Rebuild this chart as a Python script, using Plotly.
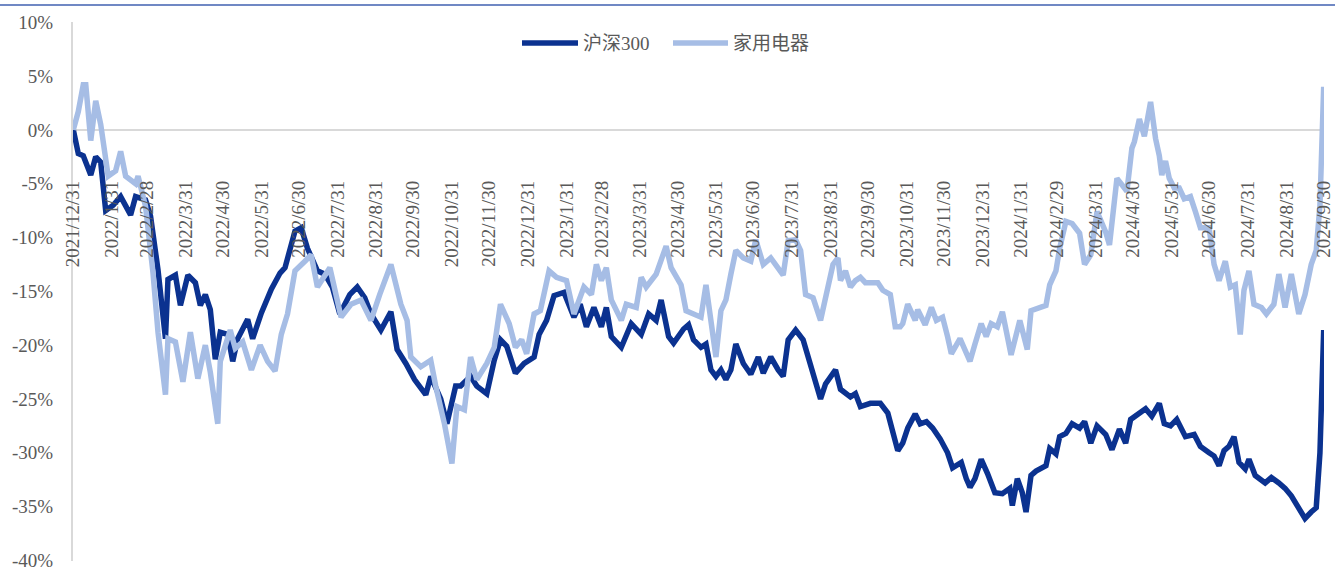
import pandas as pd
import plotly.graph_objects as go

BASE = "2021-12-31"

# 沪深300 : days since 2021-12-31, cumulative return (%)
hs300_days = [0, 4, 8, 14, 18, 22, 26, 32, 38, 46, 50, 58, 62, 68, 74, 76, 82, 86, 92, 98,
              102, 106, 110, 114, 118, 124, 128, 132, 140, 144, 151, 159, 166, 170, 178, 183, 188, 196, 202, 208,
              214, 222, 228, 234, 239, 247, 255, 260, 267, 274, 283, 287, 295, 300, 307, 311, 319, 324, 332, 338,
              343, 348, 355, 362, 370, 374, 380, 386, 394, 402, 407, 412, 418, 424, 428, 432, 440, 448, 456, 462,
              468, 472, 478, 482, 490, 494, 498, 504, 508, 512, 516, 520, 524, 528, 532, 538, 544, 550, 554, 560,
              566, 570, 574, 580, 586, 592, 600, 604, 612, 616, 624, 628, 632, 640, 648, 654, 658, 662, 666, 670,
              676, 680, 685, 690, 696, 702, 706, 713, 717, 720, 724, 729, 734, 740, 746, 752, 754, 758, 762, 765,
              769, 773, 781, 784, 789, 792, 797, 802, 808, 812, 817, 822, 829, 834, 840, 845, 849, 856, 861, 866,
              872, 876, 881, 886, 893, 900, 905, 912, 916, 920, 924, 928, 932, 936, 941, 944, 949, 957, 962, 968,
              973, 978, 984, 989, 994, 998, 1001, 1004]
hs300_vals = [0, -2.2, -2.4, -4.2, -2.5, -3.0, -7.5, -7.0, -6.2, -7.9, -6.2, -6.5, -8.0, -13.0, -19.4, -13.9, -13.5, -16.3, -13.5, -14.2,
              -16.3, -15.3, -16.7, -21.3, -18.8, -19.0, -21.5, -19.4, -17.6, -19.4, -17.0, -14.8, -13.3, -12.8, -9.4, -9.1, -11.0, -13.1, -13.4, -14.6,
              -17.1, -15.3, -14.6, -15.6, -17.1, -18.6, -16.9, -20.4, -21.7, -23.2, -24.6, -22.9, -25.0, -27.3, -23.8, -23.8, -22.9, -23.8, -24.5, -21.4,
              -19.5, -20.1, -22.6, -21.7, -21.1, -19.0, -17.7, -15.4, -15.1, -17.4, -16.2, -18.3, -16.5, -18.3, -16.5, -19.2, -20.2, -18.0, -19.0, -17.1,
              -17.7, -15.8, -19.2, -19.8, -18.5, -18.1, -19.5, -20.2, -19.9, -22.3, -22.9, -22.3, -23.2, -22.3, -19.9, -21.7, -22.7, -21.1, -22.6, -21.1,
              -22.3, -22.9, -19.5, -18.6, -19.5, -21.7, -25.0, -23.6, -22.3, -24.1, -24.8, -24.5, -25.7, -25.4, -25.4, -26.3, -28.2, -29.8, -29.1, -27.7,
              -26.4, -27.3, -27.1, -27.7, -28.7, -30.0, -31.4, -30.9, -32.4, -33.2, -32.4, -30.6, -31.9, -33.7, -33.8, -33.3, -34.9, -32.4, -33.7, -35.5,
              -32.1, -31.7, -31.2, -29.6, -30.1, -28.5, -28.2, -27.3, -27.7, -27.1, -29.1, -27.5, -28.3, -29.7, -27.8, -29.1, -26.9, -26.3, -25.9, -26.6,
              -25.4, -27.3, -27.5, -26.9, -28.5, -28.3, -29.4, -30.0, -30.3, -31.2, -29.8, -29.4, -28.5, -30.9, -31.5, -30.6, -32.1, -32.8, -32.3, -32.8,
              -33.3, -34.0, -35.2, -36.1, -35.5, -35.1, -30.0, -18.6]

# 家用电器 : days since 2021-12-31, cumulative return (%)
jd_days = [0, 4, 8, 10, 14, 18, 22, 28, 34, 38, 42, 50, 52, 58, 64, 68, 74, 76, 82, 88,
           94, 100, 106, 110, 116, 118, 126, 130, 136, 143, 150, 156, 162, 167, 172, 178, 186, 191, 196, 206,
           215, 223, 231, 239, 246, 255, 263, 268, 271, 279, 287, 291, 298, 304, 308, 314, 319, 324, 332, 338,
           343, 350, 355, 360, 364, 370, 375, 382, 388, 396, 402, 410, 416, 420, 424, 428, 432, 440, 444, 452,
           456, 460, 468, 472, 476, 480, 488, 492, 498, 504, 508, 512, 516, 520, 524, 528, 532, 538, 544, 548,
           554, 560, 564, 570, 574, 580, 584, 588, 594, 600, 604, 610, 614, 616, 620, 624, 628, 632, 636, 646,
           650, 656, 660, 664, 666, 670, 676, 678, 684, 689, 693, 698, 702, 705, 712, 716, 720, 724, 729, 733,
           737, 742, 746, 753, 760, 766, 769, 781, 784, 789, 792, 797, 802, 808, 812, 817, 822, 829, 832, 838,
           842, 846, 850, 852, 856, 860, 865, 869, 872, 874, 877, 880, 884, 888, 892, 897, 901, 905, 912, 916,
           920, 925, 929, 933, 937, 940, 944, 948, 954, 958, 964, 968, 973, 978, 984, 989, 994, 998, 1001, 1004]
jd_vals = [0, 1.7, 4.2, 4.2, -1.0, 2.7, 0.5, -4.3, -3.8, -2.0, -4.3, -5.0, -4.3, -7.1, -13.3, -18.8, -24.6, -19.4, -19.7, -23.4,
           -18.8, -23.1, -20.0, -22.5, -27.3, -21.5, -18.6, -20.3, -19.7, -22.3, -20.0, -21.5, -22.4, -19.0, -17.1, -13.1, -12.2, -11.6, -14.6, -12.8,
           -17.4, -16.2, -15.8, -17.7, -15.3, -12.5, -16.2, -17.7, -21.1, -22.0, -21.4, -23.8, -27.3, -31.0, -25.7, -26.0, -21.1, -23.2, -21.7, -20.2,
           -16.2, -18.0, -20.2, -19.5, -20.8, -17.1, -16.8, -13.1, -13.7, -14.0, -17.1, -14.6, -15.3, -12.5, -14.0, -12.8, -15.8, -17.7, -16.2, -16.5,
           -13.7, -14.6, -13.4, -11.9, -10.8, -12.8, -14.4, -16.8, -17.1, -17.4, -14.4, -17.4, -21.1, -16.8, -15.8, -13.4, -11.2, -11.9, -12.2, -10.2,
           -12.5, -11.9, -12.5, -13.5, -10.3, -10.2, -11.2, -15.3, -15.6, -17.7, -15.6, -12.5, -11.9, -14.0, -13.1, -14.6, -14.0, -13.7, -14.2, -14.2,
           -14.9, -15.3, -18.3, -18.3, -18.0, -16.2, -17.7, -16.7, -18.1, -16.5, -17.7, -17.4, -19.2, -20.8, -19.4, -20.4, -21.5, -19.9, -18.0, -19.2,
           -18.0, -18.3, -16.9, -20.9, -17.7, -20.4, -16.8, -16.3, -14.4, -13.1, -11.0, -8.5, -8.7, -9.6, -12.5, -11.6, -7.6, -9.5, -10.7, -4.5,
           -5.2, -5.7, -1.7, -1.1, 1.0, -0.6, 2.6, -0.8, -2.4, -4.2, -2.9, -4.5, -5.4, -5.4, -6.4, -6.2, -7.6, -9.1, -9.1, -12.5,
           -14.0, -12.2, -14.6, -14.4, -19.0, -14.9, -13.1, -16.2, -16.5, -17.1, -16.2, -13.4, -16.5, -13.4, -17.1, -15.3, -12.5, -11.2, -7.0, 4.0]

series_names = ["沪深300", "家用电器"]

tick_dates = ["2021-12-31", "2022-01-31", "2022-02-28", "2022-03-31", "2022-04-30", "2022-05-31",
              "2022-06-30", "2022-07-31", "2022-08-31", "2022-09-30", "2022-10-31", "2022-11-30",
              "2022-12-31", "2023-01-31", "2023-02-28", "2023-03-31", "2023-04-30", "2023-05-31",
              "2023-06-30", "2023-07-31", "2023-08-31", "2023-09-30", "2023-10-31", "2023-11-30",
              "2023-12-31", "2024-01-31", "2024-02-29", "2024-03-31", "2024-04-30", "2024-05-31",
              "2024-06-30", "2024-07-31", "2024-08-31", "2024-09-30"]
tick_text = [d.replace("-0", "-").replace("-", "/") for d in tick_dates]

y_ticks = [-40, -35, -30, -25, -20, -15, -10, -5, 0, 5, 10]
y_text = [f"{v}%" for v in y_ticks]

base = pd.Timestamp(BASE)
hs_x = [base + pd.Timedelta(days=d) for d in hs300_days]
jd_x = [base + pd.Timedelta(days=d) for d in jd_days]

DARK = "#0b3290"
LIGHT = "#a6bde5"
GRAY = "#595959"
FONT = "Liberation Serif, Noto Sans CJK SC, serif"
LW = 5.5

# plot-area geometry (pixels)
L, R, T, B = 73, 11, 22, 11
PW = 1335 - L - R
PH = 572 - T - B

fig = go.Figure()
fig.add_trace(go.Scatter(x=hs_x, y=hs300_vals, mode="lines", name=series_names[0],
                         line=dict(color=DARK, width=LW), showlegend=False))
fig.add_trace(go.Scatter(x=jd_x, y=jd_vals, mode="lines", name=series_names[1],
                         line=dict(color=LIGHT, width=LW), showlegend=False))

# custom legend (long line samples as in the original)
def px_x(p):
    return (p - L) / PW

def px_y(p):
    return 1 - (p - T) / PH

LEG_Y = px_y(43)
legend_items = [(px_x(522), px_x(578), DARK, series_names[0]),
                (px_x(673), px_x(728), LIGHT, series_names[1])]
shapes = [dict(type="line", xref="paper", yref="paper", x0=px_x(0), x1=px_x(1335),
               y0=px_y(5), y1=px_y(5), line=dict(color="#7088c4", width=2))]
annotations = []
for x0, x1, col, name in legend_items:
    shapes.append(dict(type="line", xref="paper", yref="paper", x0=x0, x1=x1,
                       y0=LEG_Y, y1=LEG_Y, line=dict(color=col, width=LW)))
    annotations.append(dict(xref="paper", yref="paper", x=x1 + 3 / PW, y=LEG_Y,
                            xanchor="left", yanchor="middle", showarrow=False,
                            text=name, font=dict(size=19, color=GRAY, family=FONT)))

fig.update_layout(
    width=1335, height=572,
    margin=dict(l=L, r=R, t=T, b=B, autoexpand=False),
    paper_bgcolor="white", plot_bgcolor="white",
    font=dict(family=FONT, color=GRAY, size=19),
    showlegend=False,
    xaxis=dict(type="date", range=[base - pd.Timedelta(hours=6), pd.Timestamp("2024-09-30 06:00")],
               tickmode="array", tickvals=tick_dates, ticktext=tick_text,
               tickangle=-90, anchor="free", position=px_y(176),
               showgrid=False, zeroline=False, showline=False, ticks="",
               ticklabeloverflow="allow", automargin=False,
               tickfont=dict(size=19, color=GRAY)),
    yaxis=dict(range=[-40.05, 10.02], tickmode="array", tickvals=y_ticks, ticktext=y_text,
               showgrid=False, zeroline=True, zerolinecolor="#d9d9d9", zerolinewidth=2,
               showline=True, linecolor="#d9d9d9", linewidth=2, ticks="",
               ticklabeloverflow="allow", automargin=False,
               ticklabelstandoff=14, tickfont=dict(size=19, color=GRAY)),
    shapes=shapes,
    annotations=annotations,
)

fig.write_html("out.html")
